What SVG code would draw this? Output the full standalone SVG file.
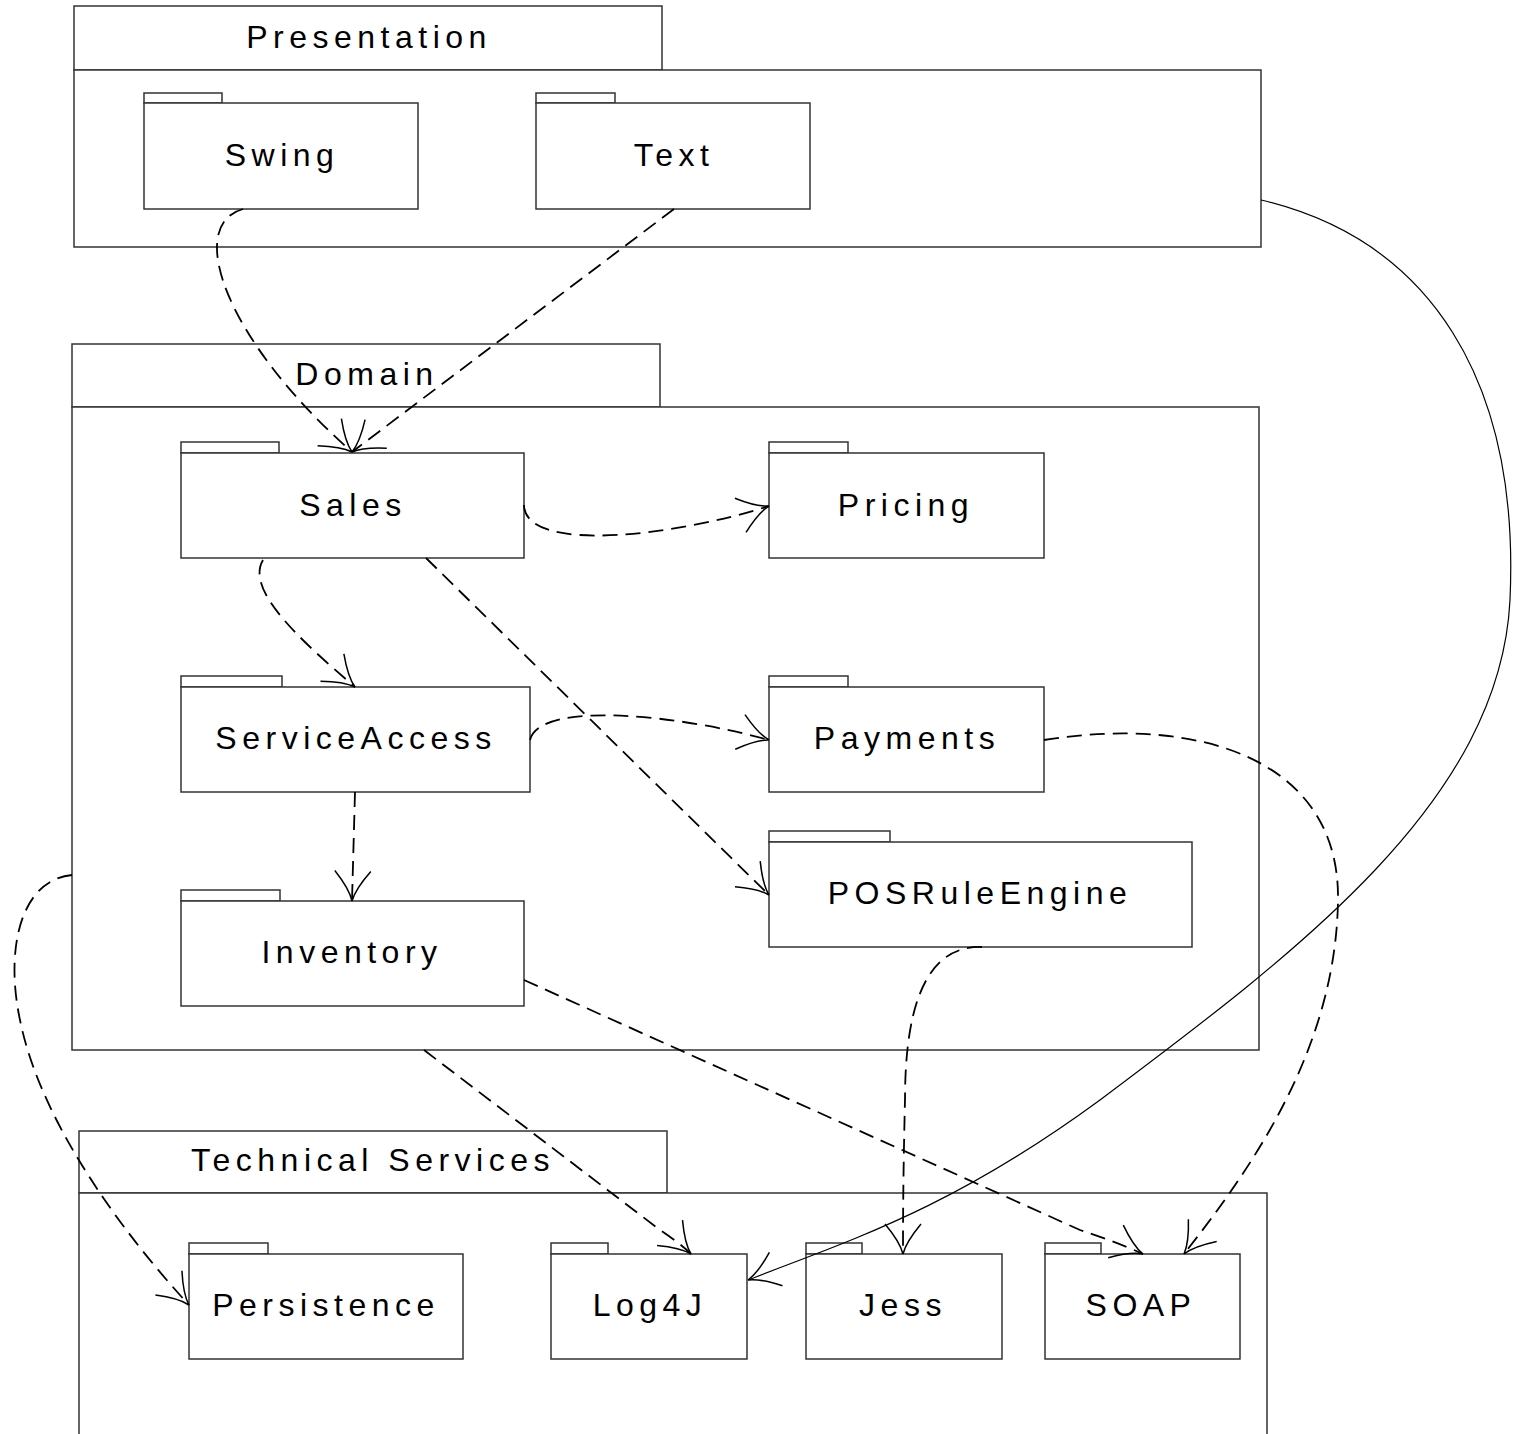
<svg xmlns="http://www.w3.org/2000/svg" width="1526" height="1434" viewBox="0 0 1526 1434">
<style>
.b{fill:#fff;stroke:#333;stroke-width:1.5}
.t{font-family:"Liberation Sans",Arial,sans-serif;font-size:32px;letter-spacing:5.5px;text-anchor:middle;fill:#000}
.d{fill:none;stroke:#000;stroke-width:1.8;stroke-dasharray:15 8}
.s{fill:none;stroke:#000;stroke-width:1.2}
</style>
<defs>
<marker id="a" markerUnits="userSpaceOnUse" markerWidth="60" markerHeight="60" refX="0" refY="0" viewBox="-40 -30 60 60" orient="auto" overflow="visible">
<path d="M-30,-18 Q-12,-3 0,0 M-30,18 Q-12,3 0,0" fill="none" stroke="#000" stroke-width="1.5"/>
</marker>
</defs>
<rect width="1526" height="1434" fill="#fff"/>
<g id="presentation">
<rect class="b" x="74" y="6" width="588" height="64"/>
<rect class="b" x="74" y="70" width="1187" height="177"/>
<text class="t" x="369" y="48">Presentation</text>
</g>
<g id="domain">
<rect class="b" x="72" y="344" width="588" height="63"/>
<rect class="b" x="72" y="407" width="1187" height="643"/>
<text class="t" x="367" y="385">Domain</text>
</g>
<g id="technical-services">
<rect class="b" x="79" y="1131" width="588" height="62"/>
<rect class="b" x="79" y="1193" width="1188" height="270"/>
<text class="t" x="373" y="1171">Technical Services</text>
</g>
<g id="swing"><rect class="b" x="144" y="93" width="78" height="10"/><rect class="b" x="144" y="103" width="274" height="106"/><text class="t" x="282" y="166">Swing</text></g>
<g id="text"><rect class="b" x="536" y="93" width="79" height="10"/><rect class="b" x="536" y="103" width="274" height="106"/><text class="t" x="674" y="166">Text</text></g>
<g id="sales"><rect class="b" x="181" y="442" width="98" height="11"/><rect class="b" x="181" y="453" width="343" height="105"/><text class="t" x="353" y="516">Sales</text></g>
<g id="pricing"><rect class="b" x="769" y="442" width="79" height="11"/><rect class="b" x="769" y="453" width="275" height="105"/><text class="t" x="906" y="516">Pricing</text></g>
<g id="serviceaccess"><rect class="b" x="181" y="676" width="101" height="11"/><rect class="b" x="181" y="687" width="349" height="105"/><text class="t" x="356" y="749">ServiceAccess</text></g>
<g id="payments"><rect class="b" x="769" y="676" width="79" height="11"/><rect class="b" x="769" y="687" width="275" height="105"/><text class="t" x="907" y="749">Payments</text></g>
<g id="posruleengine"><rect class="b" x="769" y="831" width="121" height="11"/><rect class="b" x="769" y="842" width="423" height="105"/><text class="t" x="980" y="904">POSRuleEngine</text></g>
<g id="inventory"><rect class="b" x="181" y="890" width="99" height="11"/><rect class="b" x="181" y="901" width="343" height="105"/><text class="t" x="352" y="963">Inventory</text></g>
<g id="persistence"><rect class="b" x="189" y="1243" width="79" height="11"/><rect class="b" x="189" y="1254" width="274" height="105"/><text class="t" x="326" y="1316">Persistence</text></g>
<g id="log4j"><rect class="b" x="551" y="1243" width="57" height="11"/><rect class="b" x="551" y="1254" width="196" height="105"/><text class="t" x="650" y="1316">Log4J</text></g>
<g id="jess"><rect class="b" x="806" y="1243" width="56" height="11"/><rect class="b" x="806" y="1254" width="196" height="105"/><text class="t" x="903" y="1316">Jess</text></g>
<g id="soap"><rect class="b" x="1045" y="1243" width="56" height="11"/><rect class="b" x="1045" y="1254" width="195" height="105"/><text class="t" x="1141" y="1316">SOAP</text></g>
<g id="connectors">
<path class="d" marker-end="url(#a)" d="M243,209 C185,225 225,340 352,452"/>
<path class="d" marker-end="url(#a)" d="M674,209 L352,452"/>
<path class="d" marker-end="url(#a)" d="M524,505 C525,555 680,535 769,506"/>
<path class="d" marker-end="url(#a)" d="M263,560 C245,590 300,640 355,687"/>
<path class="d" marker-end="url(#a)" d="M426,558 L769,895"/>
<path class="d" marker-end="url(#a)" d="M530,740 C540,700 680,715 769,740"/>
<path class="d" marker-end="url(#a)" d="M355,792 L352,901"/>
<path class="d" marker-end="url(#a)" d="M1044,740 C1200,715 1340,760 1338,900 C1336,1050 1250,1170 1184,1254"/>
<path class="d" marker-end="url(#a)" d="M982,947 C920,945 905,1020 905,1100 C903,1180 903,1230 903,1254"/>
<path class="d" marker-end="url(#a)" d="M524,980 L1080,1230 C1110,1240 1130,1248 1143,1254"/>
<path class="d" marker-end="url(#a)" d="M424,1050 L660,1230 C675,1240 685,1248 691,1254"/>
<path class="d" marker-end="url(#a)" d="M72,875 C20,880 5,950 20,1020 C40,1120 120,1230 189,1305"/>
<path class="s" marker-end="url(#a)" d="M1261,200 C1430,240 1520,380 1510,600 C1500,800 1300,950 1100,1100 C950,1210 850,1240 748,1280"/>
</g>
</svg>
